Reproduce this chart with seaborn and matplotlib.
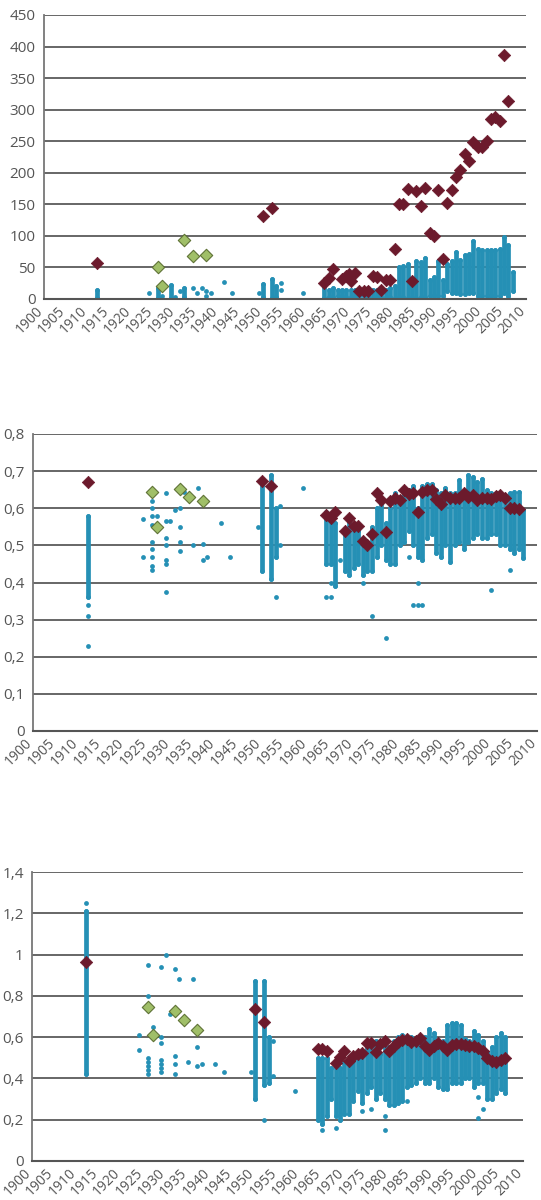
import numpy as np
import pandas as pd
import matplotlib
matplotlib.use("Agg")
import matplotlib.pyplot as plt
from matplotlib.ticker import MultipleLocator, FuncFormatter
from matplotlib.transforms import ScaledTranslation
import seaborn as sns

# ---------------- Panel 1 data ----------------
p1_red_years = [1912, 1950, 1952, 1964, 1965, 1966, 1968, 1969, 1969.5, 1970, 1971, 1972, 1973, 1974,
                1975, 1976, 1977, 1978, 1979, 1980, 1981, 1982, 1983, 1984, 1985, 1986, 1987, 1988,
                1989, 1990, 1991, 1992, 1993, 1994, 1995, 1996, 1997, 1998, 1999, 2000, 2001, 2002,
                2003, 2004, 2005, 2006]
p1_red_vals = [57, 131, 144, 26, 33, 48, 32, 37, 40, 28, 41, 12, 12, 13,
               37, 35, 14, 30, 30, 79, 151, 150, 174, 29, 171, 148, 176, 104,
               100, 172, 63, 152, 172, 193, 205, 230, 218, 249, 241, 241, 250, 286,
               288, 282, 386, 313]
p1_green_years = [1926, 1927, 1932, 1934, 1937]
p1_green_vals = [50, 20, 94, 68, 70]
p1_range_years = [1912, 1926, 1929, 1932, 1950, 1952, 1953, 1964, 1965, 1966, 1967, 1968, 1969, 1970,
                  1971, 1972, 1973, 1974, 1975, 1976, 1977, 1978, 1979, 1980, 1981, 1982, 1983, 1984,
                  1985, 1986, 1987, 1988, 1989, 1990, 1991, 1992, 1993, 1994, 1995, 1996, 1997, 1998,
                  1999, 2000, 2001, 2002, 2003, 2004, 2005, 2006, 2007]
p1_range_lo = [2, 2, 2, 3, 3, 1, 3, 1, 3, 3, 5, 3, 3, 3,
               3, 5, 5, 3, 3, 3, 3, 3, 3, 1, 1, 3, 1, 1,
               1, 3, 3, 5, 5, 5, 5, 12, 10, 10, 8, 8, 10, 10,
               5, 5, 5, 5, 5, 5, 10, 5, 12]
p1_range_hi = [15, 17, 22, 18, 23, 32, 20, 20, 15, 17, 15, 15, 15, 15,
               15, 15, 15, 17, 15, 15, 17, 15, 17, 20, 50, 52, 55, 20,
               60, 58, 65, 30, 35, 60, 30, 55, 60, 75, 62, 70, 72, 92,
               80, 78, 78, 77, 78, 80, 98, 85, 42]
p1_dot_years = [1924, 1927, 1927, 1930, 1931, 1934, 1935, 1936, 1937, 1937, 1938, 1941, 1943, 1949,
                1954, 1954, 1959]
p1_dot_vals = [9, 18, 5, 3, 12, 17, 10, 18, 13, 5, 9, 27, 9, 10,
               26, 15, 9]

# ---------------- Panel 2 data ----------------
p2_red_years = [1912, 1950, 1952, 1964, 1965, 1966, 1968, 1969, 1970, 1971, 1972, 1973, 1974, 1975,
                1976, 1977, 1978, 1979, 1980, 1981, 1982, 1983, 1984, 1985, 1986, 1987, 1988, 1989,
                1990, 1991, 1992, 1993, 1994, 1995, 1996, 1997, 1998, 1999, 2000, 2001, 2002, 2003,
                2004, 2005, 2006]
p2_red_vals = [0.670, 0.673, 0.659, 0.582, 0.573, 0.591, 0.540, 0.575, 0.553, 0.553, 0.512, 0.500,
               0.531, 0.641, 0.621, 0.535, 0.620, 0.628, 0.623, 0.648, 0.638, 0.641, 0.589, 0.645,
               0.648, 0.650, 0.625, 0.611, 0.637, 0.628, 0.628, 0.628, 0.641, 0.629, 0.637, 0.623,
               0.628, 0.628, 0.626, 0.632, 0.635, 0.628, 0.600, 0.602, 0.599]
p2_green_years = [1926, 1927, 1932, 1934, 1937]
p2_green_vals = [0.644, 0.549, 0.652, 0.629, 0.620]
p2_range_years = [1912, 1950, 1952, 1953, 1964, 1965, 1966, 1968, 1969, 1970, 1971, 1972, 1973, 1974,
                  1975, 1976, 1977, 1978, 1979, 1980, 1981, 1982, 1983, 1984, 1985, 1986, 1987, 1988,
                  1989, 1990, 1991, 1992, 1993, 1994, 1995, 1996, 1997, 1998, 1999, 2000, 2001, 2002,
                  2003, 2004, 2005, 2006, 2007]
p2_range_lo = [0.36, 0.43, 0.41, 0.47, 0.45, 0.45, 0.39, 0.43, 0.42, 0.44, 0.45, 0.42, 0.43, 0.43,
               0.47, 0.50, 0.46, 0.45, 0.45, 0.50, 0.51, 0.54, 0.50, 0.47, 0.46, 0.52, 0.53, 0.48,
               0.47, 0.50, 0.455, 0.50, 0.51, 0.49, 0.51, 0.52, 0.53, 0.52, 0.52, 0.53, 0.53, 0.50,
               0.50, 0.49, 0.48, 0.49, 0.465]
p2_range_hi = [0.58, 0.68, 0.69, 0.60, 0.59, 0.58, 0.56, 0.53, 0.58, 0.55, 0.54, 0.51, 0.50, 0.55,
               0.60, 0.62, 0.56, 0.60, 0.64, 0.63, 0.64, 0.65, 0.66, 0.60, 0.66, 0.665, 0.665, 0.65,
               0.64, 0.655, 0.64, 0.64, 0.675, 0.64, 0.69, 0.685, 0.67, 0.68, 0.65, 0.64, 0.64, 0.64,
               0.635, 0.64, 0.645, 0.645, 0.595]
p2_dot_years = [1912, 1912, 1912, 1924, 1924, 1926, 1926, 1926, 1926, 1926, 1926, 1926, 1926, 1926,
                1927, 1927, 1929, 1929, 1929, 1929, 1929, 1929, 1929, 1930, 1931, 1932, 1932, 1932,
                1932, 1933, 1935, 1936, 1937, 1937, 1938, 1941, 1943, 1949, 1953, 1954, 1954, 1959,
                1964, 1965, 1965, 1967, 1972, 1974, 1977, 1982, 1983, 1984, 1984, 1985, 2000, 2004]
p2_dot_vals = [0.34, 0.31, 0.23, 0.57, 0.47, 0.62, 0.60, 0.58, 0.555, 0.51, 0.49, 0.47, 0.445, 0.435,
               0.58, 0.55, 0.64, 0.565, 0.52, 0.50, 0.46, 0.45, 0.375, 0.565, 0.595, 0.60, 0.55, 0.51,
               0.485, 0.645, 0.50, 0.655, 0.505, 0.46, 0.47, 0.56, 0.47, 0.55, 0.36, 0.605, 0.50, 0.655,
               0.36, 0.36, 0.40, 0.46, 0.40, 0.31, 0.25, 0.47, 0.34, 0.34, 0.40, 0.34, 0.38, 0.435]

# ---------------- Panel 3 data ----------------
p3_red_years = [1912, 1950, 1952, 1964, 1965, 1966, 1968, 1969, 1970, 1971, 1972, 1973, 1974, 1975,
                1976, 1977, 1978, 1979, 1980, 1981, 1982, 1983, 1984, 1985, 1986, 1987, 1988, 1989,
                1990, 1991, 1992, 1993, 1994, 1995, 1996, 1997, 1998, 1999, 2000, 2001, 2002, 2003,
                2004, 2005, 2006]
p3_red_vals = [0.963, 0.734, 0.673, 0.544, 0.544, 0.532, 0.476, 0.505, 0.532, 0.484, 0.508, 0.516,
               0.521, 0.573, 0.573, 0.527, 0.568, 0.581, 0.532, 0.556, 0.576, 0.585, 0.592, 0.576,
               0.581, 0.597, 0.556, 0.540, 0.556, 0.573, 0.556, 0.540, 0.560, 0.565, 0.565, 0.560,
               0.556, 0.556, 0.548, 0.532, 0.500, 0.484, 0.479, 0.489, 0.500]
p3_green_years = [1926, 1927, 1932, 1934, 1937]
p3_green_vals = [0.747, 0.611, 0.729, 0.681, 0.634]
p3_range_years = [1912, 1950, 1952, 1953, 1964, 1965, 1966, 1967, 1968, 1969, 1970, 1971, 1972, 1973,
                  1974, 1975, 1976, 1977, 1978, 1979, 1980, 1981, 1982, 1983, 1984, 1985, 1986, 1987,
                  1988, 1989, 1990, 1991, 1992, 1993, 1994, 1995, 1996, 1997, 1998, 1999, 2000, 2001,
                  2002, 2003, 2004, 2005, 2006]
p3_range_lo = [0.42, 0.30, 0.37, 0.38, 0.20, 0.18, 0.22, 0.30, 0.22, 0.20, 0.23, 0.23, 0.29, 0.34,
               0.28, 0.33, 0.36, 0.30, 0.33, 0.30, 0.27, 0.27, 0.28, 0.29, 0.36, 0.37, 0.38, 0.40,
               0.38, 0.38, 0.40, 0.36, 0.35, 0.35, 0.38, 0.38, 0.38, 0.40, 0.40, 0.36, 0.38, 0.38,
               0.30, 0.30, 0.33, 0.35, 0.33]
p3_range_hi = [1.21, 0.87, 0.87, 0.60, 0.50, 0.50, 0.50, 0.45, 0.47, 0.45, 0.48, 0.47, 0.50, 0.52,
               0.53, 0.56, 0.58, 0.58, 0.52, 0.55, 0.55, 0.58, 0.60, 0.61, 0.60, 0.60, 0.58, 0.59,
               0.60, 0.64, 0.62, 0.55, 0.58, 0.66, 0.67, 0.67, 0.66, 0.59, 0.58, 0.63, 0.61, 0.58,
               0.53, 0.55, 0.60, 0.62, 0.60]
p3_dot_years = [1912, 1924, 1924, 1926, 1926, 1926, 1926, 1926, 1926, 1926, 1926, 1927, 1927, 1929,
                1929, 1929, 1929, 1929, 1929, 1929, 1930, 1931, 1932, 1932, 1932, 1932, 1933, 1935,
                1936, 1937, 1937, 1938, 1941, 1943, 1949, 1952, 1954, 1954, 1959, 1965, 1968, 1974,
                1976, 1979, 1979, 1984, 2000, 2000, 2001]
p3_dot_vals = [1.25, 0.61, 0.54, 0.95, 0.80, 0.73, 0.50, 0.48, 0.46, 0.44, 0.42, 0.65, 0.61, 0.94,
               0.60, 0.57, 0.49, 0.47, 0.45, 0.43, 1.00, 0.71, 0.93, 0.51, 0.47, 0.42, 0.88, 0.48,
               0.88, 0.55, 0.46, 0.47, 0.47, 0.43, 0.43, 0.20, 0.41, 0.58, 0.34, 0.15, 0.16, 0.24,
               0.25, 0.15, 0.22, 0.29, 0.21, 0.31, 0.25]

x_ticks = list(range(1900, 2011, 5))

BLUE = "#2590b5"
RED = "#6c1a2c"
GREEN = "#a0bf68"
GREEN_EDGE = "#5f7236"
GRID = "#666666"
TXT = "#555555"

sns.set_style("white")
plt.rcParams["font.family"] = ["Open Sans", "DejaVu Sans"]

fig = plt.figure(figsize=(5.41, 12.0), dpi=100)
W, H = 541.0, 1200.0

def rect(l, r, t, b):
    return [l / W, 1 - b / H, (r - l) / W, (b - t) / H]

panels = [
    dict(rect=rect(44, 526, 15, 299), ymax=450, ystep=50,
         red=(p1_red_years, p1_red_vals), green=(p1_green_years, p1_green_vals),
         rng=(p1_range_years, p1_range_lo, p1_range_hi), dots=(p1_dot_years, p1_dot_vals)),
    dict(rect=rect(33, 537, 434, 731), ymax=0.8, ystep=0.1,
         red=(p2_red_years, p2_red_vals), green=(p2_green_years, p2_green_vals),
         rng=(p2_range_years, p2_range_lo, p2_range_hi), dots=(p2_dot_years, p2_dot_vals)),
    dict(rect=rect(32, 523, 872, 1161), ymax=1.4, ystep=0.2,
         red=(p3_red_years, p3_red_vals), green=(p3_green_years, p3_green_vals),
         rng=(p3_range_years, p3_range_lo, p3_range_hi), dots=(p3_dot_years, p3_dot_vals)),
]

def fmt(v, pos):
    s = f"{round(v, 6):g}"
    return s.replace(".", ",")

shift = ScaledTranslation(-3 / 100.0, 0.0, fig.dpi_scale_trans)

for p in panels:
    ax = fig.add_axes(p["rect"])
    ry, rlo, rhi = p["rng"]
    # dense vertical stacks of points
    lc = ax.vlines(ry, rlo, rhi, colors=BLUE, linewidth=3.4, zorder=3)
    lc.set_capstyle("round")
    ends = pd.DataFrame({"year": list(ry) + list(ry), "v": list(rlo) + list(rhi)})
    sns.scatterplot(data=ends, x="year", y="v", ax=ax, color=BLUE, s=12,
                    linewidth=0, zorder=3, legend=False)
    dd = pd.DataFrame({"year": p["dots"][0], "v": p["dots"][1]})
    sns.scatterplot(data=dd, x="year", y="v", ax=ax, color=BLUE, s=12,
                    linewidth=0, zorder=3, legend=False)
    gd = pd.DataFrame({"year": p["green"][0], "v": p["green"][1]})
    sns.scatterplot(data=gd, x="year", y="v", ax=ax, color=GREEN, marker="D", s=40,
                    edgecolor=GREEN_EDGE, linewidth=0.8, zorder=4, legend=False)
    rd = pd.DataFrame({"year": p["red"][0], "v": p["red"][1]})
    sns.scatterplot(data=rd, x="year", y="v", ax=ax, color=RED, marker="D", s=40,
                    edgecolor=RED, linewidth=0.5, zorder=5, legend=False)

    ax.set_xlim(1900, 2010)
    ax.set_ylim(0, p["ymax"])
    ax.set_xlabel("")
    ax.set_ylabel("")
    ax.set_xticks(x_ticks)
    ax.set_xticklabels([str(t) for t in x_ticks], rotation=45, ha="right", va="center",
                       rotation_mode="anchor", fontsize=10, color=TXT)
    ax.xaxis.set_minor_locator(MultipleLocator(1))
    ax.yaxis.set_major_locator(MultipleLocator(p["ystep"]))
    ax.yaxis.set_major_formatter(FuncFormatter(fmt))
    ax.tick_params(axis="y", labelsize=11, labelcolor=TXT, direction="out",
                   length=4, width=1.0, color="#777777", pad=2)
    ax.tick_params(axis="x", which="major", direction="inout", length=8, width=1.0,
                   color="#555555", pad=3)
    ax.tick_params(axis="x", which="minor", direction="inout", length=5, width=0.9,
                   color="#555555")
    ax.yaxis.grid(True, color=GRID, linewidth=1.4, zorder=0)
    ax.xaxis.grid(False)
    ax.set_axisbelow(True)
    for side in ("top", "right"):
        ax.spines[side].set_visible(False)
    ax.spines["left"].set_color("#777777")
    ax.spines["left"].set_linewidth(1.3)
    ax.spines["bottom"].set_color("#555555")
    ax.spines["bottom"].set_linewidth(1.5)
    ax.spines["bottom"].set_zorder(6)
    for lab in ax.get_xticklabels():
        lab.set_transform(lab.get_transform() + shift)

fig.savefig("out.png", dpi=100, facecolor="white")
